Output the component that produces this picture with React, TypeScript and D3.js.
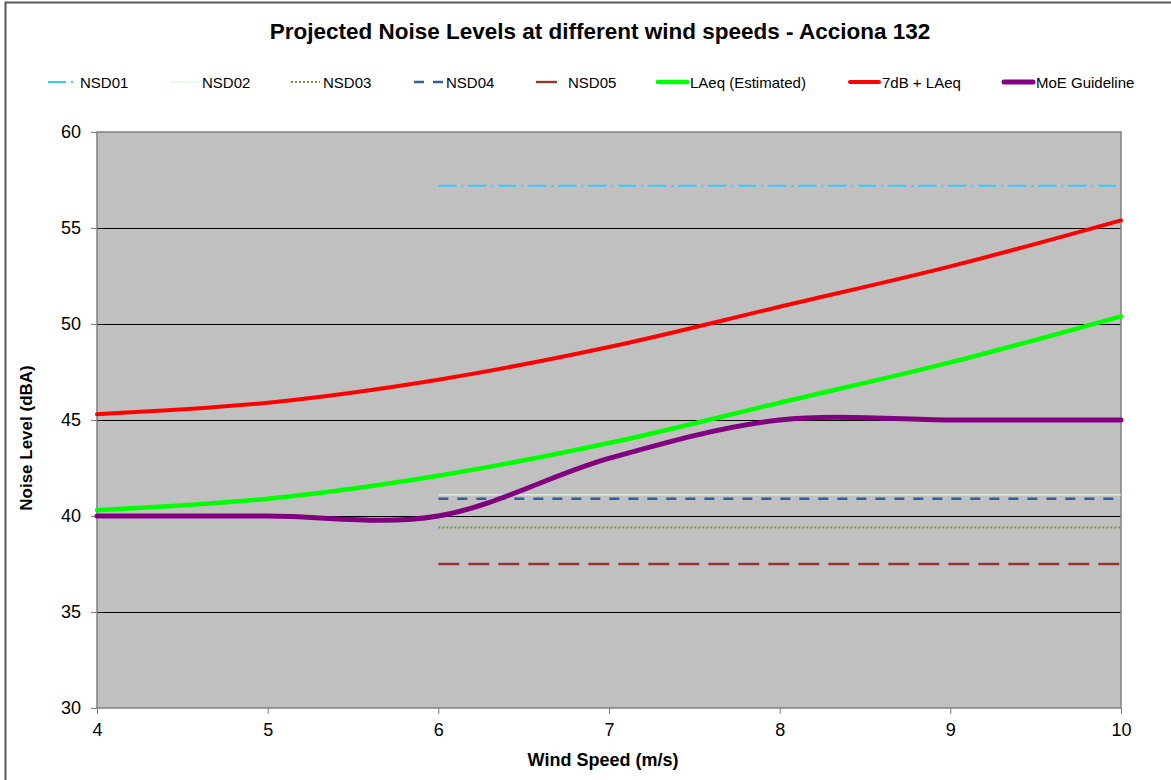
import { useEffect, useRef } from 'react';
import * as d3 from 'd3';

// wind speed (m/s) at which the values were read
const windSpeeds = [4, 5, 6, 7, 8, 9, 10];
const laeqEstimated = [40.3, 40.9, 42.1, 43.8, 45.9, 48.0, 50.4];
const laeqPlus7 = [45.3, 45.9, 47.1, 48.8, 50.9, 53.0, 55.4];
const moeGuideline = [40, 40, 40, 43, 45, 45, 45];

// receptor lines, flat from 6 to 10 m/s
const nsdSpeeds = [6, 10];
const nsd01 = [57.2, 57.2];
const nsd02 = [41.1, 41.1];
const nsd03 = [39.4, 39.4];
const nsd04 = [40.9, 40.9];
const nsd05 = [37.5, 37.5];

const yTicks = [30, 35, 40, 45, 50, 55, 60];
const xTicks = [4, 5, 6, 7, 8, 9, 10];

const TITLE = 'Projected Noise Levels at different wind speeds - Acciona 132';

interface Series {
  name: string;
  xs: number[];
  ys: number[];
  color: string;
  width: number;
  dash: string | null;
  cap: string;
  smooth: boolean;
}

const SERIES: Series[] = [
  { name: 'NSD01', xs: nsdSpeeds, ys: nsd01, color: '#33ccff', width: 2, dash: '18,5,2,5', cap: 'butt', smooth: false },
  { name: 'NSD02', xs: nsdSpeeds, ys: nsd02, color: '#d8f5d8', width: 1.2, dash: null, cap: 'butt', smooth: false },
  { name: 'NSD03', xs: nsdSpeeds, ys: nsd03, color: '#77933c', width: 2, dash: '2,2', cap: 'butt', smooth: false },
  { name: 'NSD04', xs: nsdSpeeds, ys: nsd04, color: '#366092', width: 2.4, dash: '10,9', cap: 'butt', smooth: false },
  { name: 'NSD05', xs: nsdSpeeds, ys: nsd05, color: '#943634', width: 2.4, dash: '21,9', cap: 'butt', smooth: false },
  { name: 'LAeq (Estimated)', xs: windSpeeds, ys: laeqEstimated, color: '#00ff00', width: 4.5, dash: null, cap: 'round', smooth: true },
  { name: '7dB + LAeq', xs: windSpeeds, ys: laeqPlus7, color: '#ff0000', width: 4, dash: null, cap: 'round', smooth: true },
  { name: 'MoE Guideline', xs: windSpeeds, ys: moeGuideline, color: '#800080', width: 5, dash: null, cap: 'round', smooth: true },
];

// left edge of each legend entry, matching the original's uneven spacing
const LEGEND_X = [48, 170, 291, 414, 536, 658, 850, 1004];

const W = 1171;
const H = 780;
const FONT = 'Liberation Sans, Arial, sans-serif';

export default function App() {
  const svgRef = useRef<SVGSVGElement>(null);

  useEffect(() => {
    if (!svgRef.current) return;
    const svg = d3.select(svgRef.current);
    svg.selectAll('*').remove();

    const margin = { top: 132, right: 50, bottom: 72, left: 97 };
    const innerW = W - margin.left - margin.right;
    const innerH = H - margin.top - margin.bottom;

    // outer chart frame (runs off the right and bottom of the picture)
    svg.append('rect')
      .attr('x', 5.5).attr('y', 2.5)
      .attr('width', W + 20).attr('height', H + 20)
      .attr('fill', '#fff')
      .attr('stroke', '#595959')
      .attr('stroke-width', 2);

    svg.append('text')
      .attr('x', 600)
      .attr('y', 39)
      .attr('text-anchor', 'middle')
      .attr('font-family', FONT)
      .attr('font-size', '22.5px')
      .attr('font-weight', 'bold')
      .attr('fill', '#000')
      .text(TITLE);

    const x = d3.scaleLinear().domain([4, 10]).range([0, innerW]);
    const y = d3.scaleLinear().domain([30, 60]).range([innerH, 0]);

    const g = svg.append('g').attr('transform', `translate(${margin.left},${margin.top})`);

    g.append('rect')
      .attr('width', innerW).attr('height', innerH)
      .attr('fill', '#c0c0c0');

    // gridlines
    g.selectAll('.grid')
      .data(yTicks.filter(t => t > 30 && t < 60))
      .enter().append('line')
      .attr('x1', 0).attr('x2', innerW)
      .attr('y1', d => y(d) + 0.5).attr('y2', d => y(d) + 0.5)
      .attr('stroke', '#000').attr('stroke-width', 1)
      .attr('shape-rendering', 'crispEdges');

    // axes
    const yAxis = d3.axisLeft(y).tickValues(yTicks).tickSize(6).tickPadding(10);
    const yg = g.append('g').call(yAxis);
    const xAxis = d3.axisBottom(x).tickValues(xTicks).tickSize(6).tickPadding(9).tickFormat(d3.format('d'));
    const xg = g.append('g').attr('transform', `translate(0,${innerH})`).call(xAxis);
    [yg, xg].forEach(ax => {
      ax.attr('font-size', null).attr('font-family', null);
      ax.select('.domain').remove();
      ax.selectAll('line').attr('stroke', '#808080');
      ax.selectAll('text')
        .attr('font-family', FONT)
        .attr('font-size', '18px')
        .attr('fill', '#000');
    });

    // plot border
    g.append('rect')
      .attr('width', innerW).attr('height', innerH)
      .attr('fill', 'none')
      .attr('stroke', '#808080')
      .attr('stroke-width', 1.5);

    // series
    SERIES.forEach(s => {
      const line = d3.line<number>()
        .x((_, i) => x(s.xs[i]))
        .y(d => y(d))
        .curve(s.smooth ? d3.curveCardinal.tension(0) : d3.curveLinear);
      g.append('path')
        .attr('d', line(s.ys))
        .attr('fill', 'none')
        .attr('stroke', s.color)
        .attr('stroke-width', s.width)
        .attr('stroke-linecap', s.cap)
        .attr('stroke-linejoin', 'round')
        .attr('stroke-dasharray', s.dash);
    });

    // axis titles
    svg.append('text')
      .attr('transform', `translate(32,438) rotate(-90)`)
      .attr('text-anchor', 'middle')
      .attr('font-family', FONT)
      .attr('font-size', '17px')
      .attr('font-weight', 'bold')
      .text('Noise Level (dBA)');

    svg.append('text')
      .attr('x', 603)
      .attr('y', 766)
      .attr('text-anchor', 'middle')
      .attr('font-family', FONT)
      .attr('font-size', '18px')
      .attr('font-weight', 'bold')
      .text('Wind Speed (m/s)');

    // legend
    const legend = svg.append('g');
    const ly = 82;
    SERIES.forEach((s, i) => {
      const lx = LEGEND_X[i];
      legend.append('line')
        .attr('x1', lx).attr('x2', lx + 29)
        .attr('y1', ly).attr('y2', ly)
        .attr('stroke', s.color)
        .attr('stroke-width', s.width)
        .attr('stroke-linecap', s.cap)
        .attr('stroke-dasharray', s.dash);
      legend.append('text')
        .attr('x', lx + 32)
        .attr('y', ly + 5.5)
        .attr('font-family', FONT)
        .attr('font-size', '15px')
        .attr('fill', '#000')
        .text(s.name);
    });
  }, []);

  return (
    <div style={{ position: 'absolute', left: 0, top: 0 }}>
      <svg ref={svgRef} width={W} height={H} style={{ display: 'block' }} />
    </div>
  );
}
